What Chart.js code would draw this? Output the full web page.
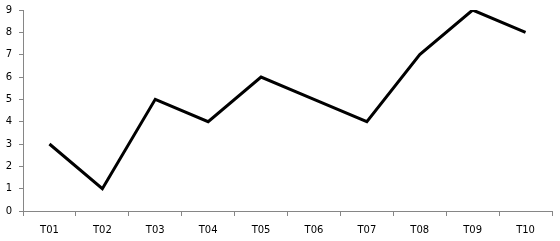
<!DOCTYPE html>
<html>
<head>
<meta charset="utf-8">
<script src="https://cdn.jsdelivr.net/npm/chart.js@4"></script>
<style>
  html, body { margin: 0; padding: 0; background: #fff; }
  #wrap { width: 560px; height: 241px; position: relative; }
</style>
</head>
<body>
<div id="wrap"><canvas id="chart"></canvas></div>
<script>
// Categories and values
const categories = ['T01', 'T02', 'T03', 'T04', 'T05', 'T06', 'T07', 'T08', 'T09', 'T10'];
const values = [3, 1, 5, 4, 6, 5, 4, 7, 9, 8];
const yMin = 0;
const yMax = 9;

const axisColor = '#868686';
const labelFont = { family: 'DejaVu Sans', size: 10 };

new Chart(document.getElementById('chart').getContext('2d'), {
  type: 'line',
  data: {
    labels: categories,
    datasets: [
      {
        data: values,
        borderColor: '#000',
        borderWidth: 3,
        pointRadius: 0,
        tension: 0,
        fill: false,
      },
    ],
  },
  options: {
    responsive: true,
    maintainAspectRatio: false,
    animation: false,
    layout: { padding: { top: 10, right: 8, left: 0, bottom: 0 } },
    plugins: {
      legend: { display: false },
      tooltip: { enabled: false },
    },
    scales: {
      x: {
        offset: true,
        grid: {
          offset: true,
          drawOnChartArea: false,
          drawTicks: true,
          tickLength: 5,
          color: axisColor,
        },
        border: { color: axisColor, width: 1 },
        ticks: { color: '#000', font: labelFont, padding: 8, maxRotation: 0 },
        afterFit: (scale) => {
          scale.height = 30;
          scale.paddingLeft = 0;
          scale.paddingRight = 0;
        },
      },
      y: {
        min: yMin,
        max: yMax,
        grid: {
          drawOnChartArea: false,
          drawTicks: true,
          tickLength: 4,
          color: axisColor,
        },
        border: { color: axisColor, width: 1 },
        ticks: { stepSize: 1, color: '#000', font: labelFont, padding: 7 },
        afterFit: (scale) => {
          scale.width = 23;
          scale.paddingTop = 0;
          scale.paddingBottom = 0;
        },
      },
    },
  },
});
</script>
</body>
</html>
